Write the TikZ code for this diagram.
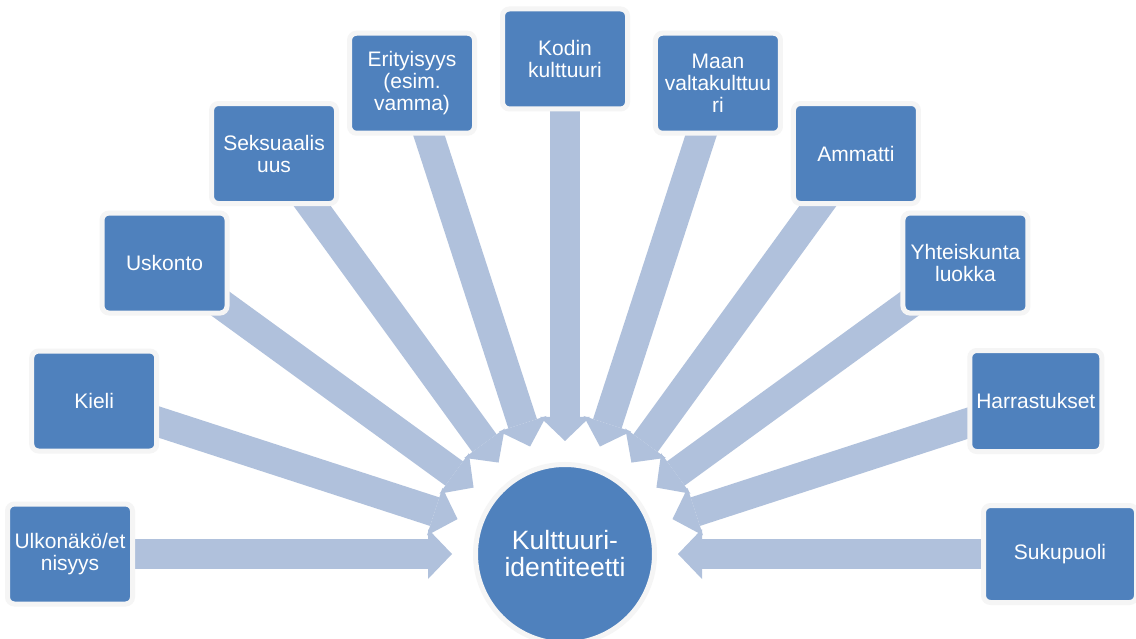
\documentclass[tikz,border=0pt]{standalone}
\usepackage{fontspec}
\setmainfont{Liberation Sans}
\usetikzlibrary{arrows.meta,calc}
\pgfdeclarelayer{bg}
\pgfsetlayers{bg,main}
\definecolor{boxblue}{HTML}{4F81BD}
\definecolor{arrowblue}{HTML}{B0C1DC}
\definecolor{halo}{HTML}{F5F5F5}
\begin{document}
\begin{tikzpicture}[x=1pt,y=1pt,
  item/.style={draw=halo, line width=5pt, fill=boxblue, rounded corners=7pt,
    minimum width=125pt, minimum height=100pt, inner sep=2pt, text=white,
    align=center, font=\fontsize{21}{22}\selectfont},
  hub/.style={circle, draw=halo, line width=5pt, fill=boxblue, minimum size=179pt,
    inner sep=0pt, text=white, align=center, font=\fontsize{26.5}{27}\selectfont},
  conv/.style={draw=arrowblue, line width=30pt,
    -{Triangle[width=50pt 0 0, length=24pt 0 0, line width=0pt]}}
]
\useasboundingbox (0,0) rectangle (1136,638);
\clip (0,0) rectangle (1136,638);
\coordinate (C) at (565,84);
\node[hub] (hub) at (C) {Kulttuuri-\\identiteetti};
\node[item] (b1) at ($(C)+(180:495)$) {Ulkonäkö/et\\nisyys};
\node[item] (b2) at ($(C)+(162:495)$) {Kieli};
\node[item] (b3) at ($(C)+(144:495)$) {Uskonto};
\node[item] (b4) at ($(C)+(126:495)$) {Seksuaalis\\uus};
\node[item] (b5) at ($(C)+(108:495)$) {Erityisyys\\(esim.\\vamma)};
\node[item] (b6) at ($(C)+(90:495)$) {Kodin\\kulttuuri};
\node[item] (b7) at ($(C)+(72:495)$) {Maan\\valtakulttuu\\ri};
\node[item] (b8) at ($(C)+(54:495)$) {Ammatti};
\node[item] (b9) at ($(C)+(36:495)$) {Yhteiskunta\\luokka};
\node[item, minimum width=132pt, minimum height=101pt] (b10) at ($(C)+(18:495)$) {Harrastukset};
\node[item, minimum width=153pt, minimum height=97pt] (b11) at ($(C)+(0:495)$) {Sukupuoli};
\foreach \k/\a in {1/180,2/162,3/144,4/126,5/108,6/90,7/72,8/54,9/36,10/18,11/0}{
  \coordinate (t\k) at ($(C)+(\a:113)$);
}
\begin{pgfonlayer}{bg}
  \fill[white] (0,0) rectangle (1136,638);
  \foreach \k in {1,...,11}{
    \draw[conv] (b\k.center) -- (t\k);
  }
\end{pgfonlayer}
\end{tikzpicture}
\end{document}
